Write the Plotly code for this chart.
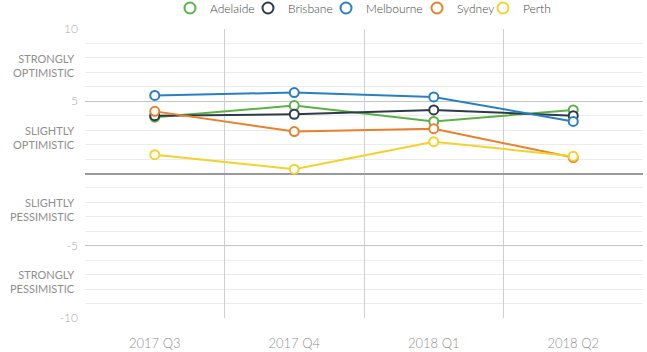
import plotly.graph_objects as go

quarters = ["2017 Q3", "2017 Q4", "2018 Q1", "2018 Q2"]
adelaide = [3.9, 4.7, 3.6, 4.4]
brisbane = [4.0, 4.1, 4.4, 4.0]
melbourne = [5.4, 5.6, 5.3, 3.6]
sydney = [4.3, 2.9, 3.1, 1.1]
perth = [1.3, 0.3, 2.2, 1.2]

series = [
    ("Adelaide", adelaide, "#5cb146"),
    ("Brisbane", brisbane, "#2d3a4a"),
    ("Melbourne", melbourne, "#2a7fc0"),
    ("Sydney", sydney, "#e8802c"),
    ("Perth", perth, "#f2d22e"),
]

y_ticks = [10, 5, -5, -10]
band_labels = [(7.5, "STRONGLY<br>OPTIMISTIC"), (2.5, "SLIGHTLY<br>OPTIMISTIC"),
               (-2.5, "SLIGHTLY<br>PESSIMISTIC"), (-7.5, "STRONGLY<br>PESSIMISTIC")]

# legend symbol centre positions in pixels (layout only)
legend_px = [190, 268, 346, 437, 503]
LEG_OFFSET = 20  # px from legend box left edge to symbol centre
LEG_Y_PX = 8     # px from top to legend centre

LIGHT = "Lato Light, Lato"
REG = "Lato"
W = 647
H = 352

fig = go.Figure()
for name, vals, col in series:
    fig.add_trace(go.Scatter(
        x=quarters, y=vals, mode="lines+markers", name=name, showlegend=False,
        line=dict(color=col, width=2),
        marker=dict(symbol="circle", size=9, color="white", line=dict(color=col, width=2)),
    ))

legend_layout = {}
for i, (name, vals, col) in enumerate(series):
    lname = "legend" if i == 0 else f"legend{i + 1}"
    fig.add_trace(go.Scatter(
        x=[None], y=[None], mode="markers", name=name, legend=lname,
        marker=dict(symbol="circle-open", size=11, color=col, line=dict(width=2)),
    ))
    legend_layout[lname] = dict(
        orientation="h", x=(legend_px[i] - LEG_OFFSET) / W, xanchor="left", xref="container",
        y=1.0 - LEG_Y_PX / H, yanchor="middle", yref="container", bgcolor="rgba(0,0,0,0)",
        font=dict(family=LIGHT, size=12, color="#444", weight=400), itemwidth=30,
    )

for yv, txt in band_labels:
    fig.add_annotation(x=0, xref="paper", y=yv, yref="y", text=txt, showarrow=False,
                       xanchor="right", xshift=-8, align="right",
                       font=dict(family=REG, size=11, color="#8e8e8e", weight=400))

fig.update_layout(
    width=W, height=H,
    margin=dict(l=85, r=4, t=29, b=34, autoexpand=False),
    paper_bgcolor="white", plot_bgcolor="white",
    font=dict(family=LIGHT, color="#666", weight=300),
    xaxis=dict(type="category", range=[-0.5, 3.5], tickson="boundaries", showgrid=True,
               gridcolor="#d0d0d0", gridwidth=1,
               ticks="", ticklabelstandoff=16, showline=False, zeroline=False,
               tickfont=dict(family=LIGHT, size=13, color="#8f8f8f", weight=400)),
    yaxis=dict(range=[-10, 10], tickvals=y_ticks, ticktext=[str(v) for v in y_ticks],
               showgrid=True, gridcolor="#c4c4c4", gridwidth=1,
               minor=dict(dtick=1, tick0=0, showgrid=True, gridcolor="#ececec", gridwidth=1),
               zeroline=True, zerolinecolor="#9a9a9a", zerolinewidth=2,
               ticks="", ticklabelstandoff=6,
               tickfont=dict(family=LIGHT, size=12, color="#aaa", weight=400)),
    **legend_layout,
)

fig.write_html("out.html")
